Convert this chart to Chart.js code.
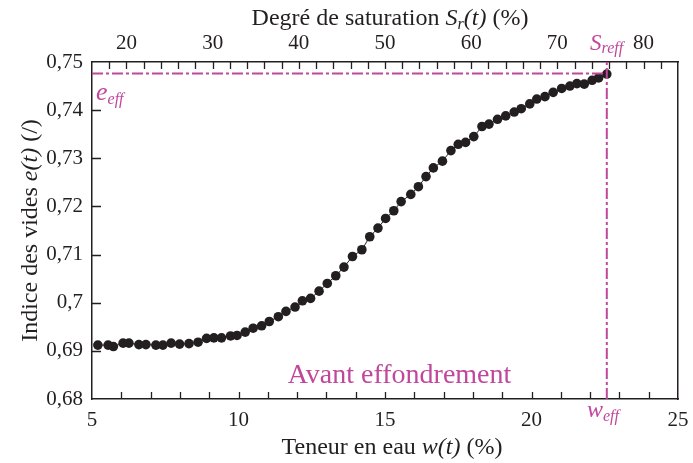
<!DOCTYPE html>
<html>
<head>
<meta charset="utf-8">
<script src="https://cdn.jsdelivr.net/npm/chart.js@4/dist/chart.umd.min.js"></script>
<style>
  html, body { margin: 0; padding: 0; background: #fff; }
  canvas { display: block; }
</style>
</head>
<body>
<canvas id="chart" width="693" height="463"></canvas>
<script>
// Data
const waterContent = [
    5.20, 5.55, 5.73, 6.06, 6.26, 6.60, 6.84, 7.18, 7.42, 7.70,
    7.99, 8.31, 8.62, 8.91, 9.16, 9.42, 9.73, 9.95, 10.23, 10.50,
    10.79, 11.05, 11.36, 11.62, 11.93, 12.18, 12.46, 12.75, 13.03, 13.32,
    13.60, 13.89, 14.21, 14.48, 14.76, 15.02, 15.30, 15.55, 15.88, 16.14,
    16.40, 16.65, 16.96, 17.25, 17.50, 17.75, 18.03, 18.31, 18.55, 18.84,
    19.12, 19.41, 19.65, 19.94, 20.18, 20.46, 20.74, 21.03, 21.31, 21.55,
    21.80, 22.07, 22.29, 22.57
];
const voidRatio = [
    0.6912, 0.6912, 0.6909, 0.6916, 0.6916, 0.6913, 0.6913, 0.6912, 0.6912, 0.6916,
    0.6914, 0.6915, 0.6918, 0.6926, 0.6927, 0.6927, 0.6931, 0.6932, 0.6939, 0.6947,
    0.6952, 0.6961, 0.6971, 0.6982, 0.6991, 0.7004, 0.7009, 0.7024, 0.7040, 0.7056,
    0.7074, 0.7096, 0.7110, 0.7137, 0.7155, 0.7175, 0.7191, 0.7210, 0.7225, 0.7241,
    0.7262, 0.7280, 0.7294, 0.7316, 0.7329, 0.7333, 0.7345, 0.7366, 0.7371, 0.7381,
    0.7388, 0.7396, 0.7403, 0.7413, 0.7423, 0.7428, 0.7437, 0.7445, 0.7450, 0.7455,
    0.7454, 0.7462, 0.7467, 0.7475
];
const wTicks = [5, 10, 15, 20, 25];
const eTicks = [0.68, 0.69, 0.70, 0.71, 0.72, 0.73, 0.74, 0.75];
const srTicks = [20, 30, 40, 50, 60, 70, 80];
const wEff = 22.57;
const eEff = 0.7476;

const ink = '#231f20';
const magenta = '#c0479b';
const serif = '"Liberation Serif", "Times New Roman", serif';

// minor tick marks (inward)
const wMarks = [];
for (let v = 6; v <= 24; v++) wMarks.push(v);
const srMarks = [];
for (let v = 18; v <= 82; v += 2) srMarks.push(v);

// draw a run of text pieces with different fonts
function drawRich(ctx, x, y, parts, align) {
    let total = 0;
    parts.forEach(p => { ctx.font = p.font; total += ctx.measureText(p.text).width; });
    let cx = align === 'center' ? x - total / 2 : x;
    parts.forEach(p => {
        ctx.font = p.font;
        ctx.fillText(p.text, cx, y + (p.dy || 0));
        cx += ctx.measureText(p.text).width;
    });
}

// keep the plot box fixed, whatever the edge labels need
function fixBox(size) {
    return s => {
        if (s.isHorizontal()) s.height = size; else s.width = size;
        s.paddingLeft = s.paddingRight = s.paddingTop = s.paddingBottom = 0;
    };
}

const decorPlugin = {
    id: 'decor',
    afterDraw(chart) {
        const ctx = chart.ctx;
        const { x, xTop, y } = chart.scales;
        const area = chart.chartArea;
        ctx.save();
        // inward tick marks
        ctx.strokeStyle = ink;
        ctx.lineWidth = 1.3;
        ctx.beginPath();
        wMarks.forEach(v => {
            const px = Math.round(x.getPixelForValue(v)) + 0.5;
            ctx.moveTo(px, area.bottom);
            ctx.lineTo(px, area.bottom - 7);
        });
        srMarks.forEach(v => {
            const px = Math.round(xTop.getPixelForValue(v)) + 0.5;
            ctx.moveTo(px, area.top);
            ctx.lineTo(px, area.top + 7);
        });
        eTicks.slice(1, -1).forEach(v => {
            const py = Math.round(y.getPixelForValue(v)) + 0.5;
            ctx.moveTo(area.left, py);
            ctx.lineTo(area.left + 9, py);
        });
        ctx.stroke();

        // axis titles
        ctx.fillStyle = ink;
        ctx.textBaseline = 'alphabetic';
        const cxm = (area.left + area.right) / 2;
        drawRich(ctx, cxm + 7, 454, [
            { text: 'Teneur en eau ', font: `24px ${serif}` },
            { text: 'w(t)', font: `italic 24px ${serif}` },
            { text: ' (%)', font: `24px ${serif}` }
        ], 'center');
        drawRich(ctx, cxm + 5, 25, [
            { text: 'Degré de saturation ', font: `24px ${serif}` },
            { text: 'S', font: `italic 24px ${serif}` },
            { text: 'r', font: `italic 16px ${serif}`, dy: 4 },
            { text: '(t)', font: `italic 24px ${serif}` },
            { text: ' (%)', font: `24px ${serif}` }
        ], 'center');
        ctx.save();
        ctx.translate(37, (area.top + area.bottom) / 2);
        ctx.rotate(-Math.PI / 2);
        drawRich(ctx, 0, 0, [
            { text: 'Indice des vides ', font: `24px ${serif}` },
            { text: 'e(t)', font: `italic 24px ${serif}` },
            { text: ' (/)', font: `24px ${serif}` }
        ], 'center');
        ctx.restore();

        // annotations
        ctx.fillStyle = magenta;
        ctx.textAlign = 'left';
        ctx.font = `28px ${serif}`;
        const label = 'Avant effondrement';
        ctx.fillText(label, 399.5 - ctx.measureText(label).width / 2, 383);
        drawRich(ctx, 96, 100, [
            { text: 'e', font: `italic 26px ${serif}` },
            { text: 'eff', font: `italic 16px ${serif}`, dy: 4 }
        ], 'left');
        drawRich(ctx, 590, 50, [
            { text: 'S', font: `italic 23px ${serif}` },
            { text: 'reff', font: `italic 16px ${serif}`, dy: 3 }
        ], 'left');
        drawRich(ctx, 587, 417, [
            { text: 'w', font: `italic 24px ${serif}` },
            { text: 'eff', font: `italic 16px ${serif}`, dy: 4 }
        ], 'left');
        ctx.restore();
    }
};

const points = waterContent.map((w, i) => ({ x: w, y: voidRatio[i] }));

new Chart(document.getElementById('chart'), {
    type: 'scatter',
    data: {
        datasets: [
            {
                data: [{ x: 5, y: eEff }, { x: wEff, y: eEff }],
                showLine: true,
                borderColor: magenta,
                borderWidth: 2,
                borderDash: [11, 3, 3, 3],
                pointRadius: 0
            },
            {
                data: [{ x: wEff, y: 0.68 }, { x: wEff, y: 0.75 }],
                showLine: true,
                borderColor: magenta,
                borderWidth: 2,
                borderDash: [11, 3, 3, 3],
                pointRadius: 0
            },
            {
                data: points,
                showLine: true,
                borderColor: ink,
                borderWidth: 1,
                backgroundColor: ink,
                pointRadius: 4.8,
                pointBorderWidth: 0
            }
        ]
    },
    options: {
        responsive: false,
        animation: false,
        devicePixelRatio: 1,
        layout: { padding: 0 },
        plugins: { legend: { display: false }, tooltip: { enabled: false } },
        scales: {
            x: {
                type: 'linear', position: 'bottom', min: 5, max: 25,
                afterBuildTicks: s => { s.ticks = wTicks.map(v => ({ value: v })); },
                afterFit: fixBox(64),
                grid: { display: false, drawTicks: false },
                border: { display: true, color: ink, width: 1.5 },
                ticks: { padding: 9, color: ink, maxRotation: 0, font: { family: serif, size: 21 } }
            },
            xTop: {
                type: 'linear', position: 'top', min: 16, max: 84,
                afterBuildTicks: s => { s.ticks = srTicks.map(v => ({ value: v })); },
                afterFit: fixBox(62),
                grid: { display: false, drawTicks: false },
                border: { display: true, color: ink, width: 1.5 },
                ticks: { padding: 6, color: ink, maxRotation: 0, font: { family: serif, size: 21 } }
            },
            y: {
                type: 'linear', position: 'left', min: 0.68, max: 0.75,
                afterBuildTicks: s => { s.ticks = eTicks.map(v => ({ value: v })); },
                afterFit: fixBox(92),
                grid: { display: false, drawTicks: false },
                border: { display: true, color: ink, width: 1.5 },
                ticks: {
                    padding: 9, color: ink, font: { family: serif, size: 21 },
                    callback: v => String(+v.toFixed(2)).replace('.', ',')
                }
            },
            yRight: {
                type: 'linear', position: 'right', min: 0.68, max: 0.75,
                afterFit: fixBox(15),
                grid: { display: false, drawTicks: false },
                border: { display: true, color: ink, width: 1.5 },
                ticks: { display: false }
            }
        }
    },
    plugins: [decorPlugin]
});
</script>
</body>
</html>
